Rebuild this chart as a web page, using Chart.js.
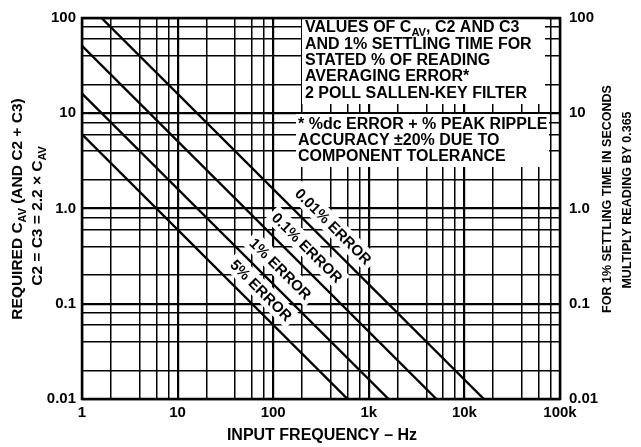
<!DOCTYPE html>
<html>
<head>
<meta charset="utf-8">
<script src="https://cdn.jsdelivr.net/npm/chart.js@4.4.0/dist/chart.umd.min.js"></script>
<style>
  html, body { margin: 0; padding: 0; background: #fff; }
  canvas { display: block; }
</style>
</head>
<body>
<canvas id="myChart" width="641" height="447"></canvas>
<script>
const seriesNames = ['0.01% ERROR', '0.1% ERROR', '1% ERROR', '5% ERROR'];
const freqStart = [1.6, 1, 1, 1];
const capStart = [100, 51, 16.1, 6.0];
const freqEnd = [16000, 5100, 1610, 600];
const capEnd = [0.01, 0.01, 0.01, 0.01];

// grid lines sit at 1, 2, 4, 6, 8 of every decade
const xTicks = [1, 2, 4, 6, 8, 10, 20, 40, 60, 80, 100, 200, 400, 600, 800,
  1000, 2000, 4000, 6000, 8000, 10000, 20000, 40000, 60000, 80000, 100000];
const xLabelValues = [1, 10, 100, 1000, 10000, 100000];
const xLabelText = ['1', '10', '100', '1k', '10k', '100k'];
const yTicks = [0.01, 0.02, 0.04, 0.06, 0.08, 0.1, 0.2, 0.4, 0.6, 0.8,
  1, 2, 4, 6, 8, 10, 20, 40, 60, 80, 100];
const yLabelValues = [0.01, 0.1, 1, 10, 100];
const yLabelText = ['0.01', '0.1', '1.0', '10', '100'];

// where along each line its label sits (frequency of the foot point)
const labelFreq = [324, 173, 91, 57];
const labelGap = 16;

const FONT = "'Liberation Sans', Arial, sans-serif";
Chart.defaults.font.family = FONT;
Chart.defaults.color = '#000';

function measureRich(ctx, parts, size) {
    let w = 0;
    for (const [txt, sub] of parts) {
        ctx.font = 'bold ' + (sub ? size * 0.7 : size) + 'px ' + FONT;
        w += ctx.measureText(txt).width;
    }
    return w;
}

function drawRich(ctx, parts, x, y, size) {
    let cx = x;
    for (const [txt, sub] of parts) {
        ctx.font = 'bold ' + (sub ? size * 0.7 : size) + 'px ' + FONT;
        ctx.fillText(txt, cx, sub ? y + size * 0.3 : y);
        cx += ctx.measureText(txt).width;
    }
}

function drawRotatedTitle(ctx, parts, cx, cy, size) {
    const w = measureRich(ctx, parts, size);
    ctx.save();
    ctx.translate(cx, cy);
    ctx.rotate(-Math.PI / 2);
    ctx.textAlign = 'left';
    ctx.textBaseline = 'middle';
    drawRich(ctx, parts, -w / 2, 0, size);
    ctx.restore();
}

const upperNote = [
    [['VALUES OF C'], ['AV', 1], [', C2 AND C3']],
    [['AND 1% SETTLING TIME FOR']],
    [['STATED % OF READING']],
    [['AVERAGING ERROR*']],
    [['2 POLL SALLEN-KEY FILTER']]
];
const lowerNote = [
    [['* %dc ERROR + % PEAK RIPPLE']],
    [['ACCURACY \u00B120% DUE TO']],
    [['COMPONENT TOLERANCE']]
];

const decorations = {
    id: 'decorations',
    beforeDatasetsDraw(chart) {
        const ctx = chart.ctx;
        const xs = chart.scales.x;
        const ys = chart.scales.y;
        ctx.save();
        // white note boxes over the grid
        ctx.fillStyle = '#fff';
        ctx.fillRect(302, 16, 243, 88);
        ctx.fillRect(296, 114, 253, 53);

        ctx.fillStyle = '#000';
        ctx.textBaseline = 'middle';
        ctx.textAlign = 'left';
        const upperY = [28, 44.5, 60.5, 77, 93.5];
        upperNote.forEach((parts, i) => drawRich(ctx, parts, 305, upperY[i], 16));
        const lowerY = [125, 141, 157];
        lowerNote.forEach((parts, i) => drawRich(ctx, parts, 298, lowerY[i], 16));

        // labels along the lines
        for (let i = 0; i < seriesNames.length; i++) {
            const x0 = xs.getPixelForValue(freqStart[i]);
            const y0 = ys.getPixelForValue(capStart[i]);
            const x1 = xs.getPixelForValue(freqEnd[i]);
            const y1 = ys.getPixelForValue(capEnd[i]);
            const ang = Math.atan2(y1 - y0, x1 - x0);
            const fx = xs.getPixelForValue(labelFreq[i]);
            const fy = y0 + (fx - x0) / (x1 - x0) * (y1 - y0);
            const cx = fx + labelGap * Math.sin(ang);
            const cy = fy - labelGap * Math.cos(ang);
            ctx.save();
            ctx.translate(cx, cy);
            ctx.rotate(ang);
            ctx.font = 'bold 15px ' + FONT;
            const w = ctx.measureText(seriesNames[i]).width;
            ctx.fillStyle = '#fff';
            ctx.fillRect(-w / 2 - 4, -10, w + 8, 20);
            ctx.fillStyle = '#000';
            ctx.textAlign = 'center';
            ctx.textBaseline = 'middle';
            ctx.fillText(seriesNames[i], 0, 1);
            ctx.restore();
        }
        ctx.restore();
    },
    afterDraw(chart) {
        const ctx = chart.ctx;
        const a = chart.chartArea;
        ctx.save();
        ctx.strokeStyle = '#000';
        ctx.lineWidth = 2.5;
        ctx.strokeRect(a.left, a.top, a.right - a.left, a.bottom - a.top);

        ctx.fillStyle = '#000';
        drawRotatedTitle(ctx, [['REQUIRED C'], ['AV', 1], [' (AND C2 + C3)']], 18, 209, 15.5);
        drawRotatedTitle(ctx, [['C2 = C3 = 2.2 \u00D7 C'], ['AV', 1]], 38, 216, 15.5);
        drawRotatedTitle(ctx, [['FOR 1% SETTLING TIME IN SECONDS']], 608, 199, 12.5);
        drawRotatedTitle(ctx, [['MULTIPLY READING BY 0.365']], 628, 200, 12.5);

        ctx.font = 'bold 16px ' + FONT;
        ctx.textAlign = 'center';
        ctx.textBaseline = 'middle';
        ctx.fillText('INPUT FREQUENCY \u2013 Hz', 322, 436);
        ctx.restore();
    }
};

const datasets = seriesNames.map((name, i) => ({
    label: name,
    data: [{ x: freqStart[i], y: capStart[i] }, { x: freqEnd[i], y: capEnd[i] }],
    showLine: true,
    borderColor: '#000',
    borderWidth: 2.4,
    pointRadius: 0,
    fill: false
}));

function gridWidth(majors) {
    return c => (c.tick && majors.includes(c.tick.value)) ? 2.2 : 1.5;
}

const tickFont = { size: 15, weight: 'bold' };

const ctx = document.getElementById('myChart').getContext('2d');
const myChart = new Chart(ctx, {
    type: 'scatter',
    data: { datasets: datasets },
    plugins: [decorations],
    options: {
        responsive: false,
        animation: false,
        layout: { padding: { top: 15, left: 0, right: 0, bottom: 0 } },
        plugins: { legend: { display: false }, tooltip: { enabled: false } },
        scales: {
            x: {
                type: 'logarithmic',
                min: 1,
                max: 100000,
                afterBuildTicks: s => { s.ticks = xTicks.map(v => ({ value: v })); },
                afterFit: s => { s.height = 48; },
                ticks: {
                    autoSkip: false,
                    maxRotation: 0,
                    padding: 5,
                    color: '#000',
                    font: tickFont,
                    callback: v => {
                        const i = xLabelValues.indexOf(v);
                        return i >= 0 ? xLabelText[i] : '';
                    }
                },
                grid: { color: '#000', lineWidth: gridWidth(xLabelValues), drawTicks: false },
                border: { display: false }
            },
            y: {
                type: 'logarithmic',
                position: 'left',
                min: 0.01,
                max: 100,
                afterBuildTicks: s => { s.ticks = yTicks.map(v => ({ value: v })); },
                afterFit: s => { s.width = 82; },
                ticks: {
                    autoSkip: false,
                    padding: 6,
                    color: '#000',
                    font: tickFont,
                    callback: v => {
                        const i = yLabelValues.indexOf(v);
                        return i >= 0 ? yLabelText[i] : '';
                    }
                },
                grid: { color: '#000', lineWidth: gridWidth(yLabelValues), drawTicks: false },
                border: { display: false }
            },
            y2: {
                type: 'logarithmic',
                position: 'right',
                min: 0.01,
                max: 100,
                afterBuildTicks: s => { s.ticks = yTicks.map(v => ({ value: v })); },
                afterFit: s => { s.width = 81; },
                ticks: {
                    autoSkip: false,
                    padding: 9,
                    color: '#000',
                    font: tickFont,
                    callback: v => {
                        const i = yLabelValues.indexOf(v);
                        return i >= 0 ? yLabelText[i] : '';
                    }
                },
                grid: { display: false, drawTicks: false },
                border: { display: false }
            }
        }
    }
});
</script>
</body>
</html>
